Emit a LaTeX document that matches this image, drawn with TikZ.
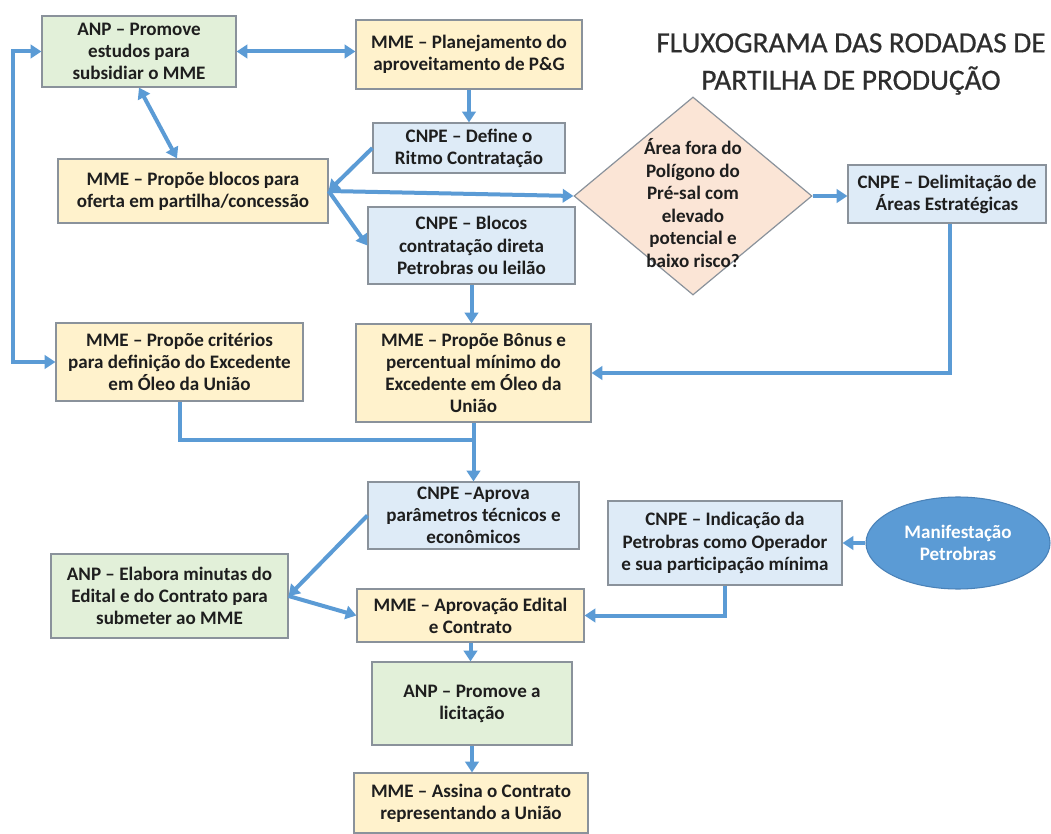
\documentclass[tikz,border=0pt]{standalone}
\usepackage{fontspec}
\setmainfont{Carlito}
\newfontfamily\titlefont[FakeBold=0.6]{Carlito}
\usetikzlibrary{arrows.meta,shapes.geometric,calc}
\definecolor{cyel}{HTML}{FFF2CC}
\definecolor{cgrn}{HTML}{E2F0D9}
\definecolor{cblu}{HTML}{DEEBF7}
\definecolor{cpch}{HTML}{FBE5D6}
\definecolor{carr}{HTML}{5B9BD5}
\definecolor{cbrd}{HTML}{8A929B}
\definecolor{ctxt}{HTML}{1E1E1E}
\definecolor{ctit}{HTML}{2E2E2E}
\definecolor{cell}{HTML}{5B9BD5}
\definecolor{cellb}{HTML}{4A82B8}
\tikzset{
  bx/.style={draw=cbrd, line width=0.9pt, align=center, inner sep=1pt, text=ctxt,
    font=\bfseries\fontsize{14.3}{16.6}\selectfont},
  sz/.style 2 args={minimum width=#1*0.75pt, minimum height=#2*0.75pt},
  yel/.style={bx, fill=cyel},
  grn/.style={bx, fill=cgrn},
  blu/.style={bx, fill=cblu},
  conn/.style={draw=carr, line width=3pt, -{Triangle[length=8pt,width=10pt]}},
  bconn/.style={draw=carr, line width=3pt, {Triangle[length=8pt,width=10pt]}-{Triangle[length=8pt,width=10pt]}},
  plain/.style={draw=carr, line width=3pt}
}
\begin{document}
\begin{tikzpicture}[x=0.75pt,y=-0.75pt]
\useasboundingbox (0,0) rectangle (1051,834);
\fill[white] (0,0) rectangle (1051,834);

% title
\node[align=center, text=ctit, font=\titlefont\fontsize{22}{28}\selectfont] (title) at (851,64)
  {FLUXOGRAMA DAS RODADAS DE\\PARTILHA DE PRODUÇÃO};

% boxes
\node[grn, sz={194}{71}] (anp1) at (139,51.5) {ANP – Promove\\estudos para\\subsidiar o MME};
\node[yel, sz={226}{69}] (mme1) at (469,54.5) {MME – Planejamento do\\aproveitamento de P\&G};
\node[blu, sz={192}{50}] (cnpe1) at (469,148) {CNPE – Define o\\Ritmo Contratação};
\node[yel, sz={270}{64}] (mme2) at (193,191) {MME – Propõe blocos para\\oferta em partilha/concessão};
\node[blu, sz={207}{77}] (cnpe2) at (471.5,245.5) {CNPE – Blocos\\contratação direta\\Petrobras ou leilão};
\node[yel, sz={235}{98}] (mme3) at (473.5,373) {MME – Propõe Bônus e\\percentual mínimo do\\Excedente em Óleo da\\União};
\node[yel, sz={247}{78}] (mme4) at (179.5,362) {MME – Propõe critérios\\para definição do Excedente\\em Óleo da União};

\node[diamond, draw=cbrd, line width=0.9pt, fill=cpch, inner sep=0pt, sz={238}{198}] (dia) at (693,196) {};
\node[align=center, text=ctxt, font=\bfseries\fontsize{14.3}{16.9}\selectfont] (diatxt) at (693,203)
  {Área fora do\\Polígono do\\Pré-sal com\\elevado\\potencial e\\baixo risco?};

\node[blu, sz={198}{58}] (cnpe3) at (947,194) {CNPE – Delimitação de\\Áreas Estratégicas};
\node[blu, sz={211}{67}] (cnpe4) at (473.5,515.5) {CNPE –Aprova\\parâmetros técnicos e\\econômicos};
\node[blu, sz={234}{84}] (cnpe5) at (725,543) {CNPE – Indicação da\\Petrobras como Operador\\e sua participação mínima};
\node[ellipse, draw=cellb, line width=0.8pt, fill=cell, text=white, align=center, inner sep=0pt,
  font=\bfseries\fontsize{14.3}{16.6}\selectfont, sz={184}{92}] (ell) at (958,543) {Manifestação\\Petrobras};
\node[grn, sz={237}{84}] (anp2) at (169.5,596) {ANP – Elabora minutas do\\Edital e do Contrato para\\submeter ao MME};
\node[yel, sz={227}{53}] (mme5) at (470.5,615.5) {MME – Aprovação Edital\\e Contrato};
\node[grn, sz={200}{83}] (anp3) at (472,703.5) {ANP – Promove a\\licitação};
\node[yel, sz={234}{60}] (mme6) at (471,803) {MME – Assina o Contrato\\representando a União};

% helper coordinates
\coordinate (loop) at (13,200);
\coordinate (join) at (473.5,440);

% connectors
\draw[bconn] (anp1.east) -- (anp1.east -| mme1.west);
\draw[bconn] (anp1.south) -- ($(mme2.north)+(-16,0)$);
\draw[conn] (mme1.south) -- (cnpe1.north);
\draw[conn] (cnpe1.west) -- (mme2.east);
\draw[conn] (mme2.east) -- (dia.west);
\draw[conn] (mme2.east) -- (cnpe2.west);
\draw[conn] (dia.east) -- (dia.east -| cnpe3.west);
\draw[conn] (cnpe2.south) -- (cnpe2.south |- mme3.north);
\draw[conn] ($(cnpe3.south)+(3,0)$) |- (mme3.east);
\draw[bconn] (anp1.west) -- (anp1.west -| loop) |- (mme4.west);
\draw[plain] (mme4.south) |- (join);
\draw[conn] (mme3.south) -- (cnpe4.north);
\draw[conn] (cnpe4.west) -- (anp2.east);
\draw[conn] (anp2.east) -- (mme5.west);
\draw[conn] (cnpe5.south) |- (mme5.east);
\draw[conn] (ell.west) -- (cnpe5.east);
\draw[conn] (mme5.south) -- (mme5.south |- anp3.north);
\draw[conn] (anp3.south) -- (anp3.south |- mme6.north);
\end{tikzpicture}
\end{document}
